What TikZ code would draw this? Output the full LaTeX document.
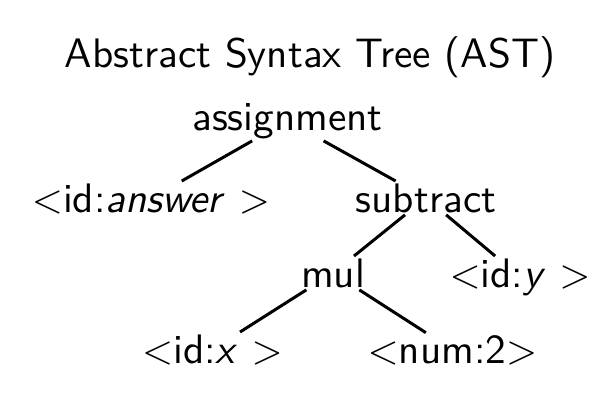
\documentclass[tikz,border=0pt]{standalone}
\tikzset{
  lbl/.style={font=\fontsize{10.3}{12}\selectfont\sffamily, inner sep=0.4pt, anchor=base},
  link/.style={line width=0.75pt}
}
\begin{document}
\begin{tikzpicture}[x=0.25pt,y=-0.25pt]
\useasboundingbox (0,0) rectangle (616,408);
\node[lbl] (title) at (310,67) {Abstract Syntax Tree (AST)};
\node[lbl] (asg) at (287.5,130) {assignment};
\node[lbl] (ans) at (151,212) {$<$id:\textit{answer} $>$};
\node[lbl] (sub) at (426,212) {subtract};
\node[lbl] (mul) at (333,287) {mul};
\node[lbl] (idy) at (520,287) {$<$id:\textit{y} $>$};
\node[lbl] (idx) at (212.5,363) {$<$id:\textit{x} $>$};
\node[lbl] (num) at (452.5,363) {$<$num:2$>$};
\draw[link] (asg) -- (ans);
\draw[link] (asg) -- (sub);
\draw[link] (sub) -- (mul);
\draw[link] (sub) -- (idy);
\draw[link] (mul) -- (idx);
\draw[link] (mul) -- (num);
\end{tikzpicture}
\end{document}
